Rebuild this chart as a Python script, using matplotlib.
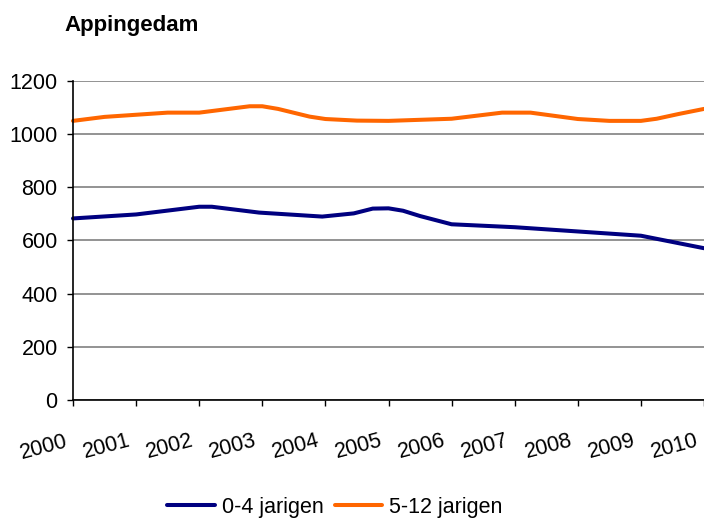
import matplotlib
matplotlib.use("Agg")
import matplotlib.pyplot as plt
import matplotlib.transforms as mtransforms

plt.rcParams["font.family"] = ["Liberation Sans", "DejaVu Sans"]

# 0-4 jarigen (jaartal, aantal)
jaar_04 = [2000, 2001, 2002, 2002.2, 2002.95, 2003.95, 2004.45, 2004.75,
           2005, 2005.23, 2005.5, 2006, 2007, 2008, 2009, 2010]
aantal_04 = [683, 698, 727, 727, 705, 690, 702, 720,
             721, 712, 692, 661, 650, 634, 618, 571]

# 5-12 jarigen
jaar_512 = [2000, 2000.5, 2001, 2001.5, 2002, 2002.8, 2003, 2003.25, 2003.75,
            2004, 2004.5, 2005, 2006, 2006.8, 2007.25, 2008, 2008.5, 2009,
            2009.25, 2009.6, 2010]
aantal_512 = [1050, 1065, 1073, 1081, 1081, 1105, 1105, 1095, 1066,
              1057, 1051, 1050, 1058, 1081, 1081, 1057, 1050, 1050,
              1058, 1076, 1095]

jaren = list(range(2000, 2011))
yticks = [0, 200, 400, 600, 800, 1000, 1200]

fig = plt.figure(figsize=(7.04, 5.2), dpi=100)
ax = fig.add_axes([73 / 704, 1 - 400 / 520, 631 / 704, 319 / 520])

ax.plot(jaar_04, aantal_04, color="#000080", lw=2.9, solid_joinstyle="round",
        solid_capstyle="round", label="0-4 jarigen", clip_on=False)
ax.plot(jaar_512, aantal_512, color="#FF6600", lw=2.9, solid_joinstyle="round",
        solid_capstyle="round", label="5-12 jarigen", clip_on=False)

ax.set_xlim(2000, 2010)
ax.set_ylim(0, 1200)
ax.set_yticks(yticks)
ax.set_xticks(jaren)
ax.set_xticklabels([str(j) for j in jaren], rotation=15, ha="right",
                   rotation_mode="anchor")
ax.yaxis.grid(True, color="#808080", lw=1.2)
ax.set_axisbelow(True)

for s in ["top", "right"]:
    ax.spines[s].set_visible(False)
ax.spines["left"].set_linewidth(1.2)
ax.spines["bottom"].set_linewidth(1.2)
ax.tick_params(axis="y", direction="out", length=4, width=1, pad=7, labelsize=15.5)
ax.tick_params(axis="x", direction="out", length=4, width=1, pad=18, labelsize=15.5)

# labels iets naar links, zoals in Excel
shift = mtransforms.ScaledTranslation(-9 / 100, 0, fig.dpi_scale_trans)
for lbl in ax.get_xticklabels():
    lbl.set_transform(lbl.get_transform() + shift)

fig.text(64 / 704, 1 - 25 / 520, "Appingedam", fontsize=16, fontweight="bold",
         ha="left", va="center")

fig.legend(loc="center", bbox_to_anchor=(335 / 704, 1 - 507 / 520), ncol=2,
           frameon=False, fontsize=15.5, handlelength=2.2, handletextpad=0.35,
           columnspacing=0.5)

fig.savefig("out.png", dpi=100)
